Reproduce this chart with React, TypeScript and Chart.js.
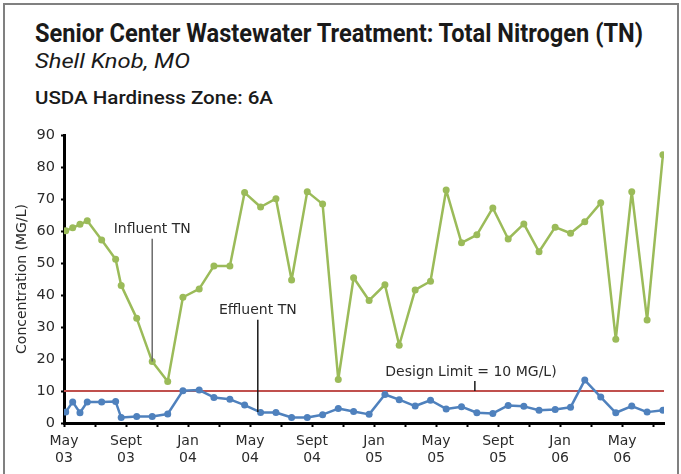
import React, { useEffect, useRef } from "react";
import { Chart, registerables } from "chart.js";
Chart.register(...registerables);

// months since May 2003
const sampleMonth = [0.11, 0.56, 1.03, 1.5, 2.43, 3.33, 3.69, 4.69, 5.69, 6.69, 7.67, 8.72, 9.67, 10.7, 11.65, 12.68, 13.67, 14.68, 15.69, 16.68, 17.69, 18.68, 19.68, 20.7, 21.62, 22.65, 23.64, 24.65, 25.64, 26.63, 27.66, 28.65, 29.66, 30.64, 31.68, 32.67, 33.59, 34.62, 35.59, 36.62, 37.61, 38.63];
const influentTN = [60.1, 61.0, 62.1, 63.2, 57.2, 51.2, 43.0, 32.7, 19.2, 13.0, 39.3, 41.9, 49.1, 49.1, 72.0, 67.5, 70.1, 44.7, 72.3, 68.4, 13.6, 45.4, 38.3, 43.2, 24.3, 41.6, 44.3, 72.8, 56.3, 58.8, 67.2, 57.5, 62.2, 53.5, 61.2, 59.3, 62.9, 68.8, 26.2, 72.3, 32.2, 83.8];
const effluentTN = [3.4, 6.6, 3.2, 6.6, 6.6, 6.7, 1.7, 2.0, 2.0, 2.8, 10.1, 10.3, 8.0, 7.4, 5.6, 3.3, 3.3, 1.7, 1.7, 2.6, 4.5, 3.6, 2.7, 8.9, 7.3, 5.3, 7.1, 4.4, 5.1, 3.2, 3.0, 5.5, 5.2, 4.0, 4.2, 4.9, 13.4, 8.1, 3.2, 5.3, 3.4, 4.0];
const designLimit = 10;
const xStart = 0;
const xEnd = 38.7;
const xTickMonths = [0, 4, 8, 12, 16, 20, 24, 28, 32, 36];
const xTickLabels = [["May", "03"], ["Sept", "03"], ["Jan", "04"], ["May", "04"], ["Sept", "04"], ["Jan", "05"], ["May", "05"], ["Sept", "05"], ["Jan", "06"], ["May", "06"]];
const yMin = 0;
const yMax = 90;
const yStep = 10;

const titleText = "Senior Center Wastewater Treatment: Total Nitrogen (TN)";
const subtitleText = "Shell Knob, MO";
const zoneText = "USDA Hardiness Zone: 6A";
const yAxisTitle = "Concentration (MG/L)";

const leaderNotes = [
  { text: "Influent TN", x: 5.69, textY: 59.4, top: 57.6, bottom: 19.2, color: "#6b6b6b" },
  { text: "Effluent TN", x: 12.5, textY: 34.1, top: 32.3, bottom: 3.4, color: "#1a1a1a" },
];
const limitNote = { text: "Design Limit = 10 MG/L)", textX: 26.25, textY: 14.6, tickX: 26.5, top: 13.1, bottom: 10 };

const FONT = "'DejaVu Sans', sans-serif";
const TEXT_COLOR = "#2b2b2b";

const notesPlugin = {
  id: "notes",
  afterDatasetsDraw(chart: any) {
    const { ctx, scales } = chart;
    const xs = scales.x;
    const ys = scales.y;
    ctx.save();
    ctx.font = `14px ${FONT}`;
    ctx.textAlign = "center";
    ctx.textBaseline = "alphabetic";
    for (const n of leaderNotes) {
      const px = xs.getPixelForValue(n.x);
      ctx.fillStyle = TEXT_COLOR;
      ctx.fillText(n.text, px, ys.getPixelForValue(n.textY));
      ctx.strokeStyle = n.color;
      ctx.lineWidth = 1.5;
      ctx.beginPath();
      ctx.moveTo(px, ys.getPixelForValue(n.top));
      ctx.lineTo(px, ys.getPixelForValue(n.bottom));
      ctx.stroke();
    }
    ctx.fillStyle = TEXT_COLOR;
    ctx.fillText(limitNote.text, xs.getPixelForValue(limitNote.textX), ys.getPixelForValue(limitNote.textY));
    const tx = xs.getPixelForValue(limitNote.tickX);
    ctx.strokeStyle = "#1a1a1a";
    ctx.lineWidth = 1.5;
    ctx.beginPath();
    ctx.moveTo(tx, ys.getPixelForValue(limitNote.top));
    ctx.lineTo(tx, ys.getPixelForValue(limitNote.bottom));
    ctx.stroke();
    // y axis title
    const cy = (chart.chartArea.top + chart.chartArea.bottom) / 2;
    ctx.translate(22, cy);
    ctx.rotate(-Math.PI / 2);
    ctx.textBaseline = "middle";
    ctx.fillText(yAxisTitle, 0, 0);
    ctx.restore();
  },
};

export default function App() {
  const ref = useRef<HTMLCanvasElement>(null);
  useEffect(() => {
    if (!ref.current) return;
    const pts = (vals: number[]) => vals.map((v, i) => ({ x: sampleMonth[i], y: v }));
    const chart = new Chart(ref.current, {
      type: "line",
      data: {
        datasets: [
          {
            label: "Effluent TN",
            data: pts(effluentTN),
            borderColor: "#4f81bd",
            backgroundColor: "#4f81bd",
            borderWidth: 2.5,
            borderJoinStyle: "round",
            pointRadius: 3.5,
            pointBorderWidth: 0,
            order: 1,
          },
          {
            label: "Influent TN",
            data: pts(influentTN),
            borderColor: "#9bbb59",
            backgroundColor: "#9bbb59",
            borderWidth: 2.5,
            borderJoinStyle: "round",
            pointRadius: 3.5,
            pointBorderWidth: 0,
            order: 2,
          },
          {
            label: "Design Limit",
            data: [{ x: xStart, y: designLimit }, { x: xEnd, y: designLimit }],
            borderColor: "#c0504d",
            borderWidth: 2,
            pointRadius: 0,
            order: 3,
          },
        ],
      },
      options: {
        animation: false,
        responsive: false,
        devicePixelRatio: 1,
        layout: { padding: { left: 0, top: 135, right: 17, bottom: 0 } },
        plugins: { legend: { display: false }, tooltip: { enabled: false }, title: { display: false } },
        scales: {
          x: {
            type: "linear",
            min: xStart,
            max: xEnd,
            afterFit: (s: any) => { s.height = 51; },
            afterBuildTicks: (s: any) => {
              const t: any[] = [];
              for (let v = 0; v <= xEnd; v += 2) t.push({ value: v });
              s.ticks = t;
            },
            ticks: {
              autoSkip: false,
              maxRotation: 0,
              padding: 6,
              color: TEXT_COLOR,
              font: { family: FONT, size: 14, lineHeight: 1.2 },
              callback: (v: any) => {
                const i = xTickMonths.indexOf(Number(v));
                return i >= 0 ? xTickLabels[i] : "";
              },
            },
            grid: { drawOnChartArea: false, drawTicks: true, tickLength: 4, tickWidth: 2, tickColor: "#000" },
            border: { color: "#000", width: 3 },
          },
          y: {
            min: yMin,
            max: yMax,
            afterFit: (s: any) => { s.width = 64; },
            ticks: {
              stepSize: yStep,
              padding: 6,
              color: TEXT_COLOR,
              font: { family: FONT, size: 14.5 },
            },
            grid: { drawOnChartArea: false, drawTicks: true, tickLength: 3, tickWidth: 2, tickColor: "#000" },
            border: { color: "#000", width: 3 },
          },
        },
      },
      plugins: [notesPlugin],
    } as any);
    return () => chart.destroy();
  }, []);

  return (
    <div style={{ position: "absolute", left: 0, top: 0, width: 681, height: 474, background: "#fff", overflow: "hidden" }}>
      <div style={{ position: "absolute", left: 3, top: 3, width: 672, height: 490, border: "2px solid #808080", borderBottom: "none" }} />
      <svg width={681} height={120} style={{ position: "absolute", left: 0, top: 0 }}>
        <text x={35} y={42} fontFamily="Roboto, 'Liberation Sans', sans-serif" fontWeight={700} fontSize={25} fill="#1a1a1a" textLength={608} lengthAdjust="spacingAndGlyphs">{titleText}</text>
        <text x={35} y={68} fontFamily="Roboto, 'Liberation Sans', sans-serif" fontStyle="italic" fontSize={21} fill="#1a1a1a" textLength={155} lengthAdjust="spacingAndGlyphs">{subtitleText}</text>
        <text x={35} y={104} fontFamily="Roboto, 'Liberation Sans', sans-serif" fontWeight={500} fontSize={19} fill="#1a1a1a" textLength={238} lengthAdjust="spacingAndGlyphs">{zoneText}</text>
      </svg>
      <canvas ref={ref} width={681} height={474} style={{ position: "absolute", left: 0, top: 0 }} />
    </div>
  );
}
